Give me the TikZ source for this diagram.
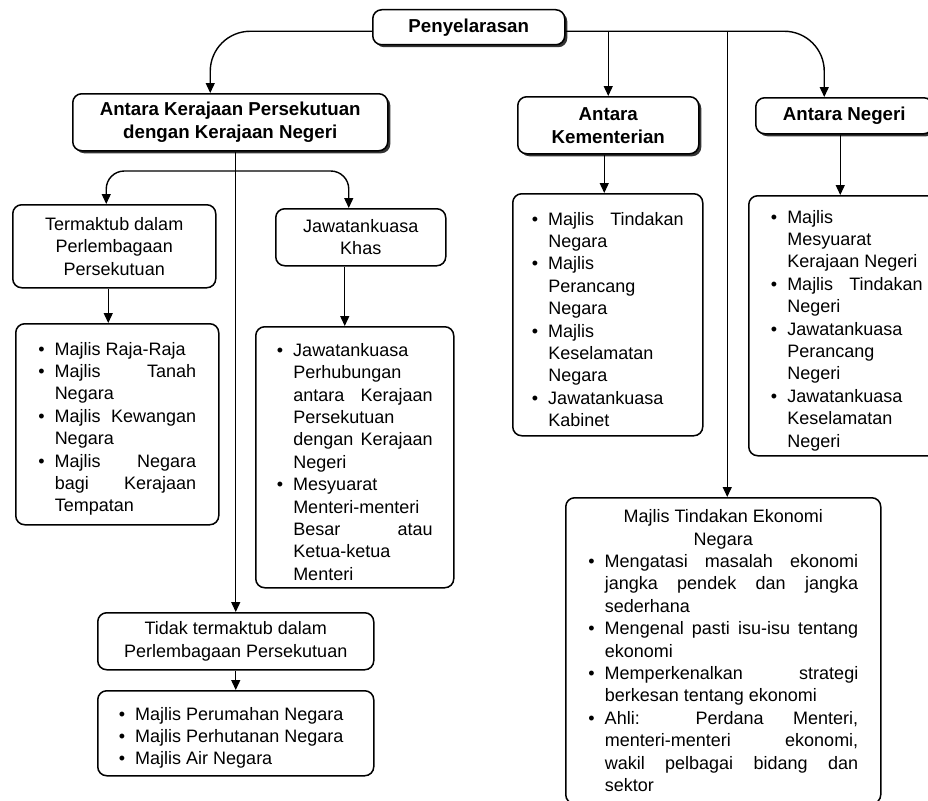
\documentclass[tikz,border=0pt]{standalone}
\usepackage{fontspec}
\setmainfont{Liberation Sans}
\usetikzlibrary{arrows.meta,shadows}
\hyphenpenalty=10000
\exhyphenpenalty=10000
\newlength{\bulind}
\setlength{\bulind}{16.5pt}
\newcommand{\bitem}[1]{\par\hangindent=\bulind\hangafter=1\noindent\makebox[\bulind][l]{\textbullet}#1\par}

\begin{document}
\begin{tikzpicture}[x=1pt,y=-1pt,
	box/.style={draw, line width=1.5pt, rounded corners=9pt, fill=white, inner sep=0pt, font=\fontsize{18}{22.4}\selectfont},
	dims/.style 2 args={minimum width=#1, minimum height=#2},
	head/.style={box, align=center, font=\fontsize{18.7}{23}\selectfont\bfseries, drop shadow={shadow xshift=2.5pt, shadow yshift=-2.5pt, fill=black!80, opacity=1}},
	capt/.style={box, align=center},
	lst/.style={box, align=justify, execute at begin node={\leftskip=0pt\rightskip=0pt\parfillskip=0pt plus 1fil\relax}},
	arr/.style={line width=1.4pt, -{Triangle[length=10pt,width=9pt]}}]
		\useasboundingbox (0,0) rectangle (928,800);
		\clip (0,0) rectangle (928,800);
		\fill[white] (0,0) rectangle (928,800);

		\node[head, dims={192pt}{35pt}, anchor=north west] (pen) at (372,9) {Penyelarasan};
		\node[head, dims={315pt}{57pt}, anchor=north west] (akp) at (72,93) {Antara Kerajaan Persekutuan\\dengan Kerajaan Negeri};
		\node[head, dims={181pt}{57pt}, anchor=north west] (ak) at (517,96) {Antara\\Kementerian};
		\node[head, dims={177pt}{36pt}, anchor=north west] (an) at (755,97) {Antara Negeri};

		\node[capt, dims={203pt}{83pt}, anchor=north west] (ter) at (12,204) {Termaktub dalam\\Perlembagaan\\Persekutuan};
		\node[capt, dims={170pt}{57pt}, anchor=north west] (kh) at (275,208) {Jawatankuasa\\Khas};
		\node[capt, dims={276pt}{57pt}, anchor=north west] (tid) at (97,612) {Tidak termaktub dalam\\Perlembagaan Persekutuan};

		\node[lst, dims={203pt}{201pt}, text width=158pt, anchor=north west] (l1) at (15,323) {%
			\bitem{Majlis Raja-Raja}
			\bitem{Majlis Tanah\linebreak Negara}
			\bitem{Majlis Kewangan\linebreak Negara}
			\bitem{Majlis Negara\linebreak bagi Kerajaan\linebreak Tempatan}};
		\node[lst, dims={198pt}{261pt}, text width=156pt, anchor=north west] (l2) at (255,326) {%
			\bitem{Jawatankuasa\linebreak Perhubungan\linebreak antara Kerajaan\linebreak Persekutuan\linebreak dengan Kerajaan\linebreak Negeri}
			\bitem{Mesyuarat\linebreak Menteri-menteri\linebreak Besar atau\linebreak Ketua-ketua\linebreak Menteri}};
		\node[lst, dims={276pt}{85pt}, text width=234pt, anchor=north west] (l3) at (97,690) {%
			\bitem{Majlis Perumahan Negara}
			\bitem{Majlis Perhutanan Negara}
			\bitem{Majlis Air Negara}};
		\node[lst, dims={190pt}{242pt}, text width=152pt, anchor=north west] (lk) at (512,193) {%
			\bitem{Majlis Tindakan\linebreak Negara}
			\bitem{Majlis\linebreak Perancang\linebreak Negara}
			\bitem{Majlis\linebreak Keselamatan\linebreak Negara}
			\bitem{Jawatankuasa\linebreak Kabinet}};
		\node[lst, dims={196pt}{260pt}, text width=152pt, anchor=north west] (ln) at (748,195) {%
			\bitem{Majlis\linebreak Mesyuarat\linebreak Kerajaan Negeri}
			\bitem{Majlis Tindakan\linebreak Negeri}
			\bitem{Jawatankuasa\linebreak Perancang\linebreak Negeri}
			\bitem{Jawatankuasa\linebreak Keselamatan\linebreak Negeri}};
		\node[lst, dims={315pt}{306pt}, text width=270pt, anchor=north west] (mten) at (565,497) {%
			{\centering Majlis Tindakan Ekonomi\\Negara\par}
			\bitem{Mengatasi masalah ekonomi\linebreak jangka pendek dan jangka\linebreak sederhana}
			\bitem{Mengenal pasti isu-isu tentang\linebreak ekonomi}
			\bitem{Memperkenalkan strategi\linebreak berkesan tentang ekonomi}
			\bitem{Ahli: Perdana Menteri,\linebreak menteri-menteri ekonomi,\linebreak wakil pelbagai bidang dan\linebreak sektor}};

		% connectors
		\coordinate (pl) at ([yshift=-4pt]pen.west);
		\coordinate (pr) at ([yshift=-4pt]pen.east);
		\coordinate (br) at (235,171);
		\draw[arr, rounded corners=40pt] (pl) -| ([xshift=-20pt]akp.north);
		\draw[arr, rounded corners=40pt] (pr) -| ([xshift=-20pt]an.north);
		\draw[arr] (pr -| ak.north) -- (ak.north);
		\draw[arr] ([xshift=4pt]pr -| mten.north) -- ([xshift=4pt]mten.north);
		\draw[arr] (akp.south -| tid.north) -- (tid.north);
		\draw[arr, rounded corners=18pt] (br) -| ([xshift=-8pt]ter.north);
		\draw[arr, rounded corners=18pt] (br) -| ([xshift=-12pt]kh.north);
		\draw[arr] ([xshift=-6pt]ter.south) -- ([xshift=-6pt]ter.south |- l1.north);
		\draw[arr] ([xshift=-16pt]kh.south) -- ([xshift=-16pt]kh.south |- l2.north);
		\draw[arr] (tid.south) -- (l3.north);
		\draw[arr] ([xshift=-4pt]ak.south) -- ([xshift=-4pt]ak.south |- lk.north);
		\draw[arr] ([xshift=-4pt]an.south) -- ([xshift=-4pt]an.south |- ln.north);
\end{tikzpicture}
\end{document}
